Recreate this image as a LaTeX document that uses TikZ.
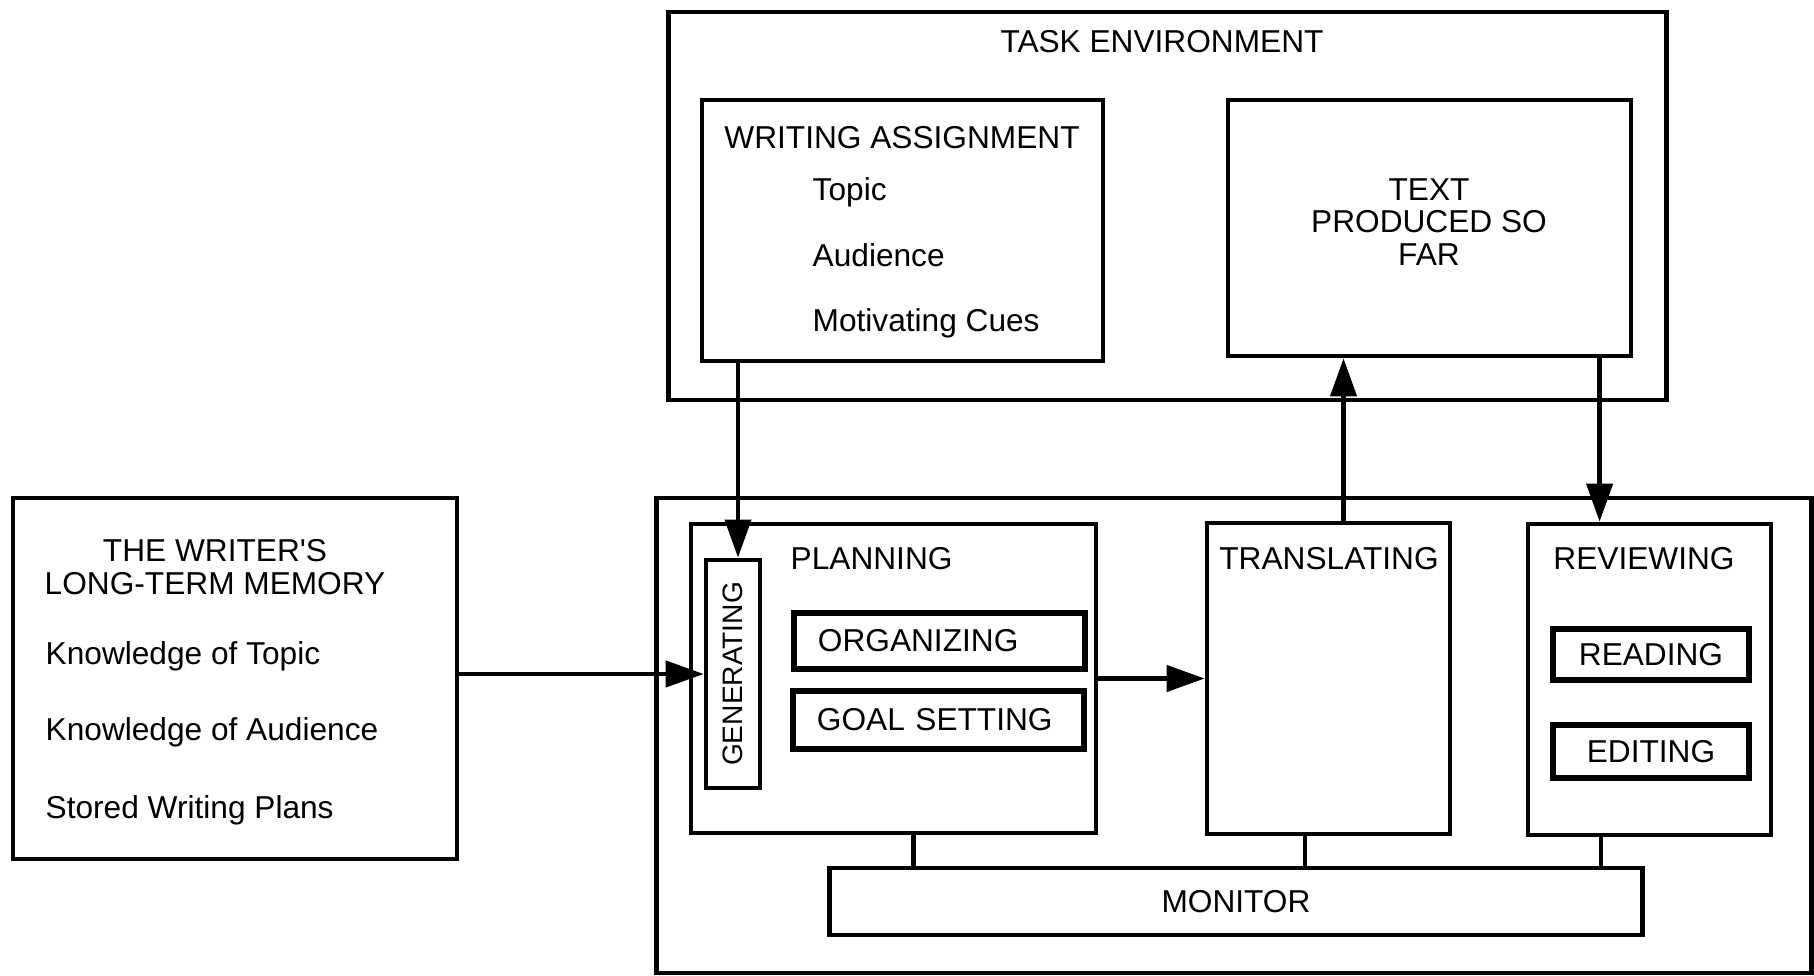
\documentclass[tikz,border=0pt]{standalone}
\usepackage{fontspec}
\setmainfont{Liberation Sans}
\usetikzlibrary{arrows.meta}

\begin{document}
\begin{tikzpicture}[x=0.01cm,y=-0.01cm,
  box/.style={draw,line width=1.3pt,rectangle,inner sep=0pt,
    font=\fontsize{9}{9.3}\selectfont},
  subbox/.style={box,line width=1.7pt},
  lbl/.style={inner sep=0pt,align=center,font=\fontsize{9}{9.3}\selectfont},
  item/.style={lbl,anchor=base west},
  link/.style={line width=1.2pt},
  flow/.style={link,-{Triangle[length=0.38cm,width=0.26cm]}}]

\useasboundingbox (0,0) rectangle (1814,976);

% task environment
\node[box,minimum width=9.97cm,minimum height=3.88cm] (task) at (1167.5,206) {};
\node[lbl,anchor=base] (tasktitle) at (1162,53) {TASK ENVIRONMENT};

\node[box,minimum width=4.01cm,minimum height=2.61cm] (assign) at (902.5,230.5) {};
\node[lbl,anchor=base] (assigntitle) at (902,149) {WRITING ASSIGNMENT};
\node[item] (topic) at (812,201) {Topic};
\node[item] (audience) at (812,267) {Audience};
\node[item] (cues) at (812,331) {Motivating Cues};

\node[box,minimum width=4.03cm,minimum height=2.56cm] (sofar) at (1429.5,228) {};
\node[lbl] (sofartext) at (1429,222) {TEXT\\PRODUCED SO\\FAR};

% long-term memory
\node[box,minimum width=4.44cm,minimum height=3.61cm] (ltm) at (235,678.5) {};
\node[lbl] (ltmtitle) at (215,567) {THE WRITER\textquotesingle S\\LONG-TERM MEMORY};
\node[item] (ktopic) at (45,664) {Knowledge of Topic};
\node[item] (kaud) at (45,740) {Knowledge of Audience};
\node[item] (plans) at (45,818) {Stored Writing Plans};

% writing processes
\node[box,minimum width=11.54cm,minimum height=4.75cm] (proc) at (1234,735.5) {};

\node[box,minimum width=4.05cm,minimum height=3.09cm] (plan) at (893.5,678.5) {};
\node[lbl,anchor=base west] (plantitle) at (790,570) {PLANNING};
\node[box,rotate=90,minimum width=2.28cm,minimum height=0.54cm,
  font=\fontsize{8}{9}\selectfont] (gen) at (733,674) {GENERATING};
\node[subbox,minimum width=2.91cm,minimum height=0.56cm,inner xsep=0.24cm,
  text width=2.43cm,align=left] (org) at (939.5,641) {ORGANIZING};
\node[subbox,minimum width=2.91cm,minimum height=0.58cm,inner xsep=0.24cm,
  text width=2.43cm,align=left] (goal) at (938.5,720) {GOAL SETTING};

\node[box,minimum width=2.43cm,minimum height=3.11cm] (trans) at (1328.5,678.5) {};
\node[lbl,anchor=base] (transtitle) at (1329,570) {TRANSLATING};

\node[box,minimum width=2.43cm,minimum height=3.11cm] (rev) at (1649.5,679.5) {};
\node[lbl,anchor=base] (revtitle) at (1644,570) {REVIEWING};
\node[subbox,minimum width=1.96cm,minimum height=0.51cm] (read) at (1651,654.5) {READING};
\node[subbox,minimum width=1.96cm,minimum height=0.53cm] (edit) at (1651,751.5) {EDITING};

\node[box,minimum width=8.12cm,minimum height=0.67cm] (mon) at (1236,901.5) {MONITOR};

% connections
\draw[flow] ([xshift=0.05cm]assign.south -| gen.east) -- ([xshift=0.05cm]gen.east);
\draw[flow] (ltm.east |- gen.north) -- (gen.north);
\draw[flow] (plan.east) -- (trans.west);
\draw[flow] ([xshift=0.15cm]trans.north) -- ([xshift=0.15cm]trans.north |- sofar.south);
\draw[flow] ([xshift=1.7cm]sofar.south) -- ([xshift=1.7cm]sofar.south |- rev.north);
\foreach \n/\d in {plan/0.2,trans/-0.235,rev/-0.485}
  \draw[link] ([xshift=\d cm]\n.south) -- ([xshift=\d cm]\n.south |- mon.north);
\end{tikzpicture}
\end{document}
